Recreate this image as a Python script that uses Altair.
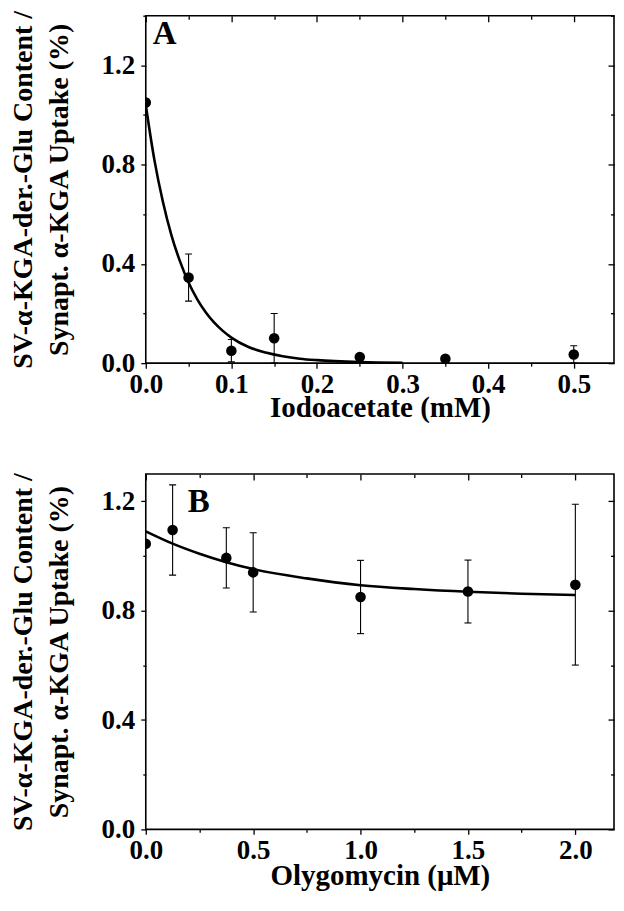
import altair as alt
import pandas as pd

FONT = "Liberation Serif"

# ---------------- Panel A: Iodoacetate ----------------
a_x = [0.0, 0.05, 0.10, 0.15, 0.25, 0.35, 0.50]
a_y = [1.05, 0.345, 0.05, 0.10, 0.025, 0.018, 0.035]
a_err = [0.0, 0.095, 0.045, 0.10, 0.0, 0.0, 0.035]
a_curve_x = [0.0, 0.01, 0.02, 0.03, 0.04, 0.05, 0.06, 0.07, 0.08, 0.09, 0.10,
             0.12, 0.14, 0.16, 0.18, 0.20, 0.25, 0.30]
a_curve_y = [1.04, 0.82, 0.65, 0.515, 0.41, 0.325, 0.258, 0.205, 0.163, 0.13, 0.103,
             0.065, 0.043, 0.028, 0.018, 0.012, 0.004, 0.001]
a_xmajor = [0.0, 0.1, 0.2, 0.3, 0.4, 0.5]
a_xminor = [0.05, 0.15, 0.25, 0.35, 0.45]
a_ymajor = [0.0, 0.4, 0.8, 1.2]
a_yminor = [0.2, 0.6, 1.0, 1.4]

# ---------------- Panel B: Olygomycin ----------------
b_x = [0.0, 0.125, 0.375, 0.5, 1.0, 1.5, 2.0]
b_y = [1.045, 1.095, 0.993, 0.94, 0.85, 0.87, 0.895]
b_err = [0.0, 0.165, 0.11, 0.145, 0.134, 0.115, 0.294]
b_curve_x = [0.0, 0.125, 0.25, 0.375, 0.5, 0.75, 1.0, 1.25, 1.5, 1.75, 2.0]
b_curve_y = [1.09, 1.045, 1.008, 0.977, 0.952, 0.918, 0.893, 0.879, 0.869, 0.862, 0.857]
b_xmajor = [0.0, 0.5, 1.0, 1.5, 2.0]
b_xminor = [0.25, 0.75, 1.25, 1.75]
b_ymajor = [0.0, 0.4, 0.8, 1.2]
b_yminor = [0.2, 0.6, 1.0]

y_title = ["SV-\u03b1-KGA-der.-Glu Content /", "Synapt. \u03b1-KGA Uptake (%)"]


def ax(values, orient, size, labels=False, title=None, fmt=".1f", inward=False,
       lpad=5, tpad=14, tsize=29):
    kw = dict(values=values, orient=orient, tickSize=size, labels=labels, domain=False,
              grid=False, tickColor="black", tickWidth=1.3, title=title,
              minExtent=0, maxExtent=400)
    if labels:
        kw.update(format=fmt, labelFont=FONT, labelFontSize=27, labelFontWeight="bold",
                  labelColor="black", labelPadding=lpad, labelFlush=False, labelOverlap=False)
    if title is not None:
        kw.update(titleFont=FONT, titleFontSize=tsize, titleFontWeight="bold",
                  titleColor="black", titleLineHeight=36, titlePadding=tpad)
    if inward:
        kw.update(offset=-size)
    return alt.Axis(**kw)


def panel(px, py, perr, cx, cy, xmaj, xmin, ymaj, ymin, xdom, ydom, xtitle, label,
          lx, ly, w, h, xtpad):
    xs = alt.Scale(domain=xdom, nice=False, zero=False)
    ys = alt.Scale(domain=ydom, nice=False, zero=False)
    pts = pd.DataFrame({"x": px, "y": py, "err": perr})
    pts["lo"] = pts["y"] - pts["err"]
    pts["hi"] = pts["y"] + pts["err"]
    bars = pts[pts["err"] > 0]
    caps = pd.concat([
        pd.DataFrame({"x": bars["x"], "v": bars["lo"]}),
        pd.DataFrame({"x": bars["x"], "v": bars["hi"]}),
    ])
    curve = pd.DataFrame({"x": cx, "y": cy})

    l_points = alt.Chart(pts).mark_circle(size=112, color="black", opacity=1, clip=True).encode(
        x=alt.X("x:Q", scale=xs, axis=ax(xmaj, "bottom", 5, labels=True, title=xtitle,
                                         lpad=3, tpad=xtpad, tsize=29)),
        y=alt.Y("y:Q", scale=ys, axis=ax(ymaj, "left", 5, labels=True, title=y_title,
                                         lpad=6, tpad=28, tsize=28)),
    )
    l_curve = alt.Chart(curve).mark_line(color="black", strokeWidth=2.6,
                                         interpolate="monotone", clip=True).encode(
        x=alt.X("x:Q", scale=xs, axis=ax(xmin, "bottom", 3)),
        y=alt.Y("y:Q", scale=ys, axis=ax(ymin, "left", 3)),
    )
    l_err = alt.Chart(bars).mark_rule(color="black", strokeWidth=1.1, clip=True).encode(
        x=alt.X("x:Q", scale=xs, axis=ax(xmaj, "top", 6, inward=True)),
        y=alt.Y("lo:Q", scale=ys, axis=ax(ymaj, "right", 6, inward=True)),
        y2="hi:Q",
    )
    l_caps = alt.Chart(caps).mark_tick(color="black", orient="horizontal", size=7,
                                       thickness=1.1, opacity=1, clip=True).encode(
        x=alt.X("x:Q", scale=xs, axis=ax(xmin, "top", 3.5, inward=True)),
        y=alt.Y("v:Q", scale=ys, axis=ax(ymin, "right", 3.5, inward=True)),
    )
    l_label = alt.Chart(pd.DataFrame({"t": [label]})).mark_text(
        font=FONT, fontSize=33, fontWeight="bold", color="black", align="left",
        baseline="alphabetic").encode(text="t:N", x=alt.value(lx), y=alt.value(ly))

    return alt.layer(l_points, l_curve, l_err, l_caps, l_label).resolve_axis(
        x="independent", y="independent").properties(width=w, height=h)


pA = panel(a_x, a_y, a_err, a_curve_x, a_curve_y, a_xmajor, a_xminor, a_ymajor, a_yminor,
           [0, 0.547], [0, 1.4], "Iodoacetate (mM)", "A", 7, 28, 469, 348, -4)
pB = panel(b_x, b_y, b_err, b_curve_x, b_curve_y, b_xmajor, b_xminor, b_ymajor, b_yminor,
           [0, 2.18], [0, 1.3], "Olygomycin (\u03bcM)", "B", 42, 38, 469, 356, -2)

chart = alt.vconcat(pA, pB, spacing=48).properties(
    padding={"left": 0, "top": 0, "right": 0, "bottom": 0},
    background="white",
).configure(font=FONT).configure_axis(
    labelFont=FONT, titleFont=FONT
).configure_view(stroke="black", strokeWidth=1.6)

chart.save("out.html", embed_options={"renderer": "svg", "actions": False})
